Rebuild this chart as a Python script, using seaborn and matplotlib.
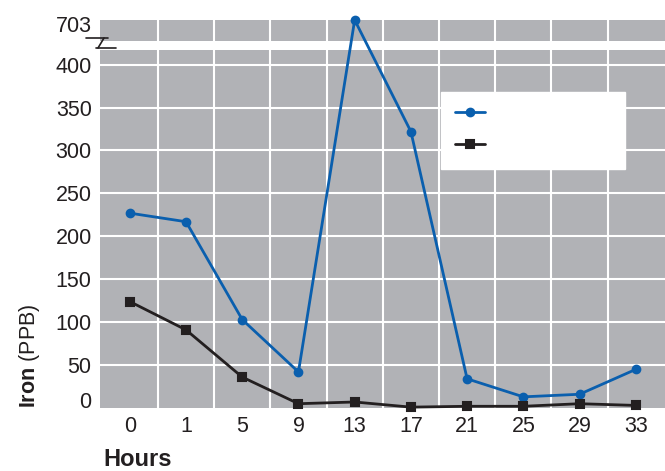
import numpy as np
import pandas as pd
import matplotlib
matplotlib.use("Agg")
import matplotlib.pyplot as plt
import matplotlib.transforms as mtransforms
from matplotlib.lines import Line2D
import seaborn as sns

# values
hours = ["0", "1", "5", "9", "13", "17", "21", "25", "29", "33"]
iron_blue = [227, 217, 103, 42, 703, 322, 34, 13, 16, 45]
iron_black = [124, 91, 36, 5, 7, 1, 2, 2, 5, 3]
series_names = ["Series A", "Series B"]
y_ticks = [0, 50, 100, 150, 200, 250, 300, 350, 400, 703]

BLUE = "#0a5fae"
BLACK = "#231f20"
GRAY = "#b1b2b6"

# broken y axis: linear up to 417, compressed above
BREAK = 417
K = 35 / 286


def fwd(v):
    v = np.asarray(v, dtype=float)
    return np.where(v <= BREAK, v, BREAK + (v - BREAK) * K)


def inv(t):
    t = np.asarray(t, dtype=float)
    return np.where(t <= BREAK, t, BREAK + (t - BREAK) / K)


sns.set_theme(style="white")
plt.rcParams["font.family"] = ["Liberation Sans", "DejaVu Sans"]
plt.rcParams["mathtext.fontset"] = "custom"
plt.rcParams["mathtext.bf"] = "Liberation Sans:bold"
plt.rcParams["mathtext.rm"] = "Liberation Sans"

df = pd.DataFrame({
    "Hours": hours * 2,
    "Iron": iron_blue + iron_black,
    "Series": [series_names[0]] * len(hours) + [series_names[1]] * len(hours),
})

fig = plt.figure(figsize=(6.65, 4.71), dpi=100)
ax = fig.add_axes([100 / 665, 1 - 408 / 471, 565 / 665, 388 / 471])
ax.set_facecolor(GRAY)

sns.pointplot(data=df, x="Hours", y="Iron", hue="Series", order=hours,
              palette=[BLUE, BLACK], markers=["o", "s"], linestyles=["-", "-"],
              errorbar=None, ax=ax, markersize=5.5, linewidth=2.0, clip_on=False,
              zorder=3)

ax.set_yscale("function", functions=(fwd, inv))
ax.set_ylim(0, 703)
ax.set_xlim(-0.53, 9.52)
ax.set_yticks(y_ticks)
ax.set_yticklabels([str(t) for t in y_ticks])
ax.yaxis.set_minor_locator(matplotlib.ticker.NullLocator())
ax.set_xticks(range(len(hours)))
ax.set_xticks(np.arange(0.5, len(hours) - 0.5, 1), minor=True)

ax.grid(False)
ax.grid(True, axis="y", which="major", color="white", linewidth=1.5)
ax.grid(True, axis="x", which="minor", color="white", linewidth=1.5)
ax.set_axisbelow(True)
gl = ax.get_ygridlines()
gl[0].set_visible(False)
gl[-1].set_visible(False)

# white break band
ax.axhspan(BREAK, inv(BREAK + 10.5), color="white", zorder=1, lw=0)

for s in ax.spines.values():
    s.set_visible(False)
ax.tick_params(axis="both", which="both", length=0, labelsize=15.5,
               colors="#231f20")
ax.tick_params(axis="y", pad=6)
ax.tick_params(axis="x", pad=6)

# nudge edge labels like the original
ylabels = ax.get_yticklabels()
ylabels[0].set_transform(ylabels[0].get_transform() +
                         mtransforms.ScaledTranslation(0, 8 / 100, fig.dpi_scale_trans))
ylabels[-1].set_transform(ylabels[-1].get_transform() +
                          mtransforms.ScaledTranslation(0, -4 / 100, fig.dpi_scale_trans))

ax.set_xlabel("")
ax.set_ylabel("")

# legend: white box, markers only
handles, _ = ax.get_legend_handles_labels()
leg = ax.legend(handles, ["", ""], loc="upper left",
                bbox_to_anchor=(441 / 665, 1 - 92 / 471, 184 / 665, 0.001),
                bbox_transform=fig.transFigure, mode="expand",
                frameon=True, fancybox=False, framealpha=1, edgecolor="white",
                facecolor="white", handlelength=1.55, borderpad=0.72,
                labelspacing=0.74, fontsize=14, borderaxespad=0)

# axis titles
fig.text(30 / 665, 1 - 408 / 471, r"$\bf{Iron}$ (PPB)", rotation=90,
         ha="center", va="bottom", fontsize=15.5, color=BLACK)
fig.text(103 / 665, 1 - 460 / 471, "Hours", fontweight="bold",
         ha="left", va="center", fontsize=17, color=BLACK)

# axis break symbol
def px(x, y):
    return x / 665, 1 - y / 471

for seg in [[(86, 38), (108, 38)], [(104, 38), (98, 48)], [(96, 48), (116, 48)]]:
    (x0, y0), (x1, y1) = px(*seg[0]), px(*seg[1])
    fig.add_artist(Line2D([x0, x1], [y0, y1], transform=fig.transFigure,
                          color=BLACK, lw=1.2))

fig.savefig("out.png", dpi=100)
